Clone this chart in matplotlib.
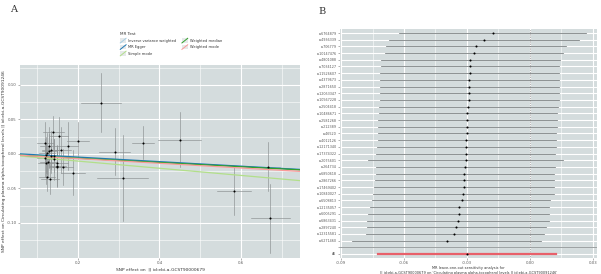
import matplotlib
matplotlib.use("Agg")
import matplotlib.pyplot as plt
from matplotlib.lines import Line2D
from matplotlib.patches import Rectangle
from matplotlib.legend_handler import HandlerBase
import numpy as np

# ---------------- Panel A data ----------------
bx = [0.257, 0.450, 0.290, 0.360, 0.310, 0.584, 0.666, 0.672, 0.140, 0.153, 0.119,
      0.175, 0.201, 0.133, 0.129, 0.125, 0.123, 0.142, 0.119, 0.142, 0.127, 0.150,
      0.150, 0.150, 0.164, 0.188, 0.121, 0.124, 0.132, 0.158, 0.128, 0.134]
by = [0.0743, 0.0203, 0.0033, 0.0164, -0.0352, -0.0532, -0.0184, -0.0932, 0.0314,
      0.0261, 0.0164, 0.0120, 0.0193, 0.0058, 0.0043, 0.0010, -0.0010, -0.0025,
      -0.0062, -0.0077, -0.0120, -0.0135, -0.0170, -0.0193, -0.0193, -0.0271,
      -0.0135, -0.0338, -0.0367, 0.0058, 0.0116, -0.0029]
se_x = [0.050, 0.053, 0.039, 0.028, 0.062, 0.042, 0.029, 0.048, 0.025, 0.022, 0.020,
        0.026, 0.027, 0.020, 0.018, 0.020, 0.022, 0.024, 0.019, 0.020, 0.021, 0.025,
        0.020, 0.022, 0.024, 0.030, 0.018, 0.020, 0.022, 0.025, 0.020, 0.018]
se_y = [0.043, 0.040, 0.034, 0.024, 0.062, 0.036, 0.035, 0.050, 0.024, 0.027, 0.030,
        0.035, 0.027, 0.028, 0.025, 0.030, 0.026, 0.024, 0.028, 0.030, 0.022, 0.025,
        0.030, 0.028, 0.026, 0.033, 0.030, 0.020, 0.022, 0.033, 0.028, 0.025]

methods = ["Inverse variance weighted", "MR Egger", "Simple mode",
           "Weighted median", "Weighted mode"]
slopes = [-0.030, -0.033, -0.052, -0.031, -0.034]
intercepts = [0.0, 0.002, 0.0, 0.0, 0.0]
method_colors = ["#a6cee3", "#1f78b4", "#b2df8a", "#33a02c", "#fb9a99"]

# ---------------- Panel B data ----------------
snps = ["rs6764879", "rs4936339", "rs706779", "rs10147476", "rs4801088", "rs7034127",
        "rs11526607", "rs4379673", "rs2871650", "rs12053347", "rs10567228", "rs2504418",
        "rs10486671", "rs2581268", "rs212389", "rs46520", "rs4012126", "rs12171340",
        "rs17374322", "rs2075601", "rs264734", "rs6850618", "rs2867266", "rs17469402",
        "rs10840027", "rs6508813", "rs12135057", "rs6005291", "rs6863431", "rs2897240",
        "rs12315581", "rs6271460"]
loo_b = [-0.0178, -0.0221, -0.0259, -0.0267, -0.0283, -0.0284, -0.0286, -0.0289,
         -0.0289, -0.0290, -0.0292, -0.0295, -0.0300, -0.0300, -0.0302, -0.0302,
         -0.0303, -0.0303, -0.0305, -0.0306, -0.0310, -0.0313, -0.0313, -0.0316,
         -0.0317, -0.0325, -0.0336, -0.0340, -0.0344, -0.0352, -0.0360, -0.0397]
loo_lo = [-0.0622, -0.0670, -0.0686, -0.0690, -0.0710, -0.0711, -0.0713, -0.0714,
          -0.0714, -0.0714, -0.0714, -0.0717, -0.0721, -0.0722, -0.0724, -0.0725,
          -0.0725, -0.0729, -0.0732, -0.0770, -0.0732, -0.0735, -0.0738, -0.0741,
          -0.0748, -0.0754, -0.0762, -0.0770, -0.0778, -0.0778, -0.0781, -0.0846]
loo_hi = [0.0267, 0.0232, 0.0170, 0.0159, 0.0144, 0.0141, 0.0141, 0.0140, 0.0138,
          0.0138, 0.0137, 0.0133, 0.0129, 0.0129, 0.0127, 0.0125, 0.0124, 0.0124,
          0.0122, 0.0157, 0.0119, 0.0117, 0.0116, 0.0116, 0.0114, 0.0098, 0.0090,
          0.0090, 0.0089, 0.0076, 0.0068, 0.0051]
all_b, all_lo, all_hi = -0.0302, -0.0725, 0.0124

W, H = 601, 274
fig = plt.figure(figsize=(W / 100, H / 100), dpi=100)
fig.patch.set_facecolor("white")

PANEL_BG = "#d4dcdd"
TXT = "#5a5a5a"
FS = 2.8


def box(l, t, r, b):
    return [l / W, 1 - b / H, (r - l) / W, (b - t) / H]


def style_ax(ax):
    ax.set_facecolor(PANEL_BG)
    for s in ax.spines.values():
        s.set_visible(False)
    ax.tick_params(axis="both", which="major", labelsize=FS, colors="#777777",
                   labelcolor=TXT, length=1.5, width=0.4, pad=1)
    ax.tick_params(axis="both", which="minor", length=0)


# ---------------- Panel A ----------------
axA = fig.add_axes(box(20, 65, 300, 258))
style_ax(axA)
xlimA = (0.058, 0.745)
ylimA = (-0.151, 0.129)
axA.set_xlim(*xlimA)
axA.set_ylim(*ylimA)
axA.set_xticks([0.2, 0.4, 0.6])
axA.set_xticklabels(["0.2", "0.4", "0.6"])
axA.set_xticks([0.1, 0.3, 0.5, 0.7], minor=True)
axA.set_yticks([-0.10, -0.05, 0.00, 0.05, 0.10])
axA.set_yticklabels(["-0.10", "-0.05", "0.00", "0.05", "0.10"])
axA.set_yticks([-0.125, -0.075, -0.025, 0.025, 0.075, 0.125], minor=True)
axA.grid(True, which="major", color="white", linewidth=0.8, zorder=0)
axA.grid(True, which="minor", color="white", linewidth=0.4, zorder=0)
axA.set_axisbelow(True)

for x, y, sx, sy in zip(bx, by, se_x, se_y):
    axA.plot([x - sx, x + sx], [y, y], color="#8a8f90", lw=0.45, zorder=2)
    axA.plot([x, x], [y - sy, y + sy], color="#8a8f90", lw=0.45, zorder=2)
axA.scatter(bx, by, s=2.2, color="black", zorder=4, linewidths=0)

xs = np.array(xlimA)
for m, b0, a0, c in zip(methods, slopes, intercepts, method_colors):
    axA.plot(xs, a0 + b0 * xs, color=c, lw=0.9, zorder=3)

axA.set_xlabel("SNP effect on  || id:ebi-a-GCST90000679", fontsize=3.2, color="#333333",
               labelpad=1.5)
axA.set_ylabel("SNP effect on Circulating plasma alpha-tocopherol levels || id:ebi-a-GCST90091246",
               fontsize=3.2, color="#333333")
axA.yaxis.set_label_coords((6.5 - 20) / 280, 0.5)


class DiagHandler(HandlerBase):
    def create_artists(self, legend, orig_handle, xdescent, ydescent, width, height,
                       fontsize, trans):
        r = Rectangle((-xdescent, -ydescent), width, height, facecolor="#e6e9ea",
                      edgecolor="none", transform=trans)
        ln = Line2D([-xdescent, -xdescent + width], [-ydescent, -ydescent + height],
                    color=orig_handle.get_color(), lw=0.7, transform=trans)
        return [r, ln]


handles = [Line2D([], [], color=c) for c in method_colors]
leg = axA.legend(handles, methods, title="MR Test", ncol=2, fontsize=2.6,
                 title_fontsize=3.0, loc="lower center", bbox_to_anchor=(0.54, 1.04),
                 frameon=False, handler_map={Line2D: DiagHandler()},
                 handlelength=1.6, handleheight=1.6, columnspacing=1.5,
                 labelspacing=0.5, handletextpad=0.6, borderaxespad=0)
leg._legend_box.align = "left"
for t in leg.get_texts():
    t.set_color("#333333")
leg.get_title().set_color("#333333")

fig.text(10 / W, 1 - 10 / H, "A", fontsize=7, family="DejaVu Serif", va="center",
         ha="left", color="#333333")

# ---------------- Panel B ----------------
axB = fig.add_axes(box(340, 29, 597, 258))
style_ax(axB)
n = len(snps)
ypos = np.arange(n, 0, -1) + 2  # top SNP highest
labels = snps + ["", "All"]
ypositions = list(ypos) + [2, 1]
axB.set_xlim(-0.0905, 0.032)
axB.set_ylim(0.4, n + 2 + 0.6)
axB.set_xticks([-0.09, -0.06, -0.03, 0.00, 0.03])
axB.set_xticklabels(["-0.09", "-0.06", "-0.03", "0.00", "0.03"])
axB.set_xticks([-0.075, -0.045, -0.015, 0.015], minor=True)
axB.set_yticks(ypositions)
axB.set_yticklabels(labels)
axB.tick_params(axis="y", labelsize=2.4)
axB.tick_params(axis="x", pad=0.6)
axB.grid(True, which="major", color="white", linewidth=0.8, zorder=0)
axB.grid(True, which="minor", axis="x", color="white", linewidth=0.4, zorder=0)
axB.set_axisbelow(True)

axB.axvline(0, color="#6a6a6a", lw=0.5, linestyle=(0, (1, 1.5)), zorder=2)
axB.axhline(2, color="#8c9293", lw=0.6, zorder=2)
for yv, b0, lo, hi in zip(ypos, loo_b, loo_lo, loo_hi):
    axB.plot([lo, hi], [yv, yv], color="#6e7475", lw=0.55, zorder=3)
axB.scatter(loo_b, ypos, s=2.2, color="black", zorder=4, linewidths=0)
axB.plot([all_lo, all_hi], [1, 1], color="#e8606a", lw=1.6, zorder=3)
axB.scatter([all_b], [1], s=2.2, color="black", zorder=4, linewidths=0)

axB.set_xlabel("MR leave-one-out sensitivity analysis for\n"
               "|| id:ebi-a-GCST90000679 on 'Circulating plasma alpha-tocopherol levels || id:ebi-a-GCST90091246'",
               fontsize=2.5, color="#333333", labelpad=0.8, linespacing=1.2)

fig.text(318 / W, 1 - 12 / H, "B", fontsize=7, family="DejaVu Serif", va="center",
         ha="left", color="#333333")

fig.savefig("out.png", dpi=100, facecolor="white")
